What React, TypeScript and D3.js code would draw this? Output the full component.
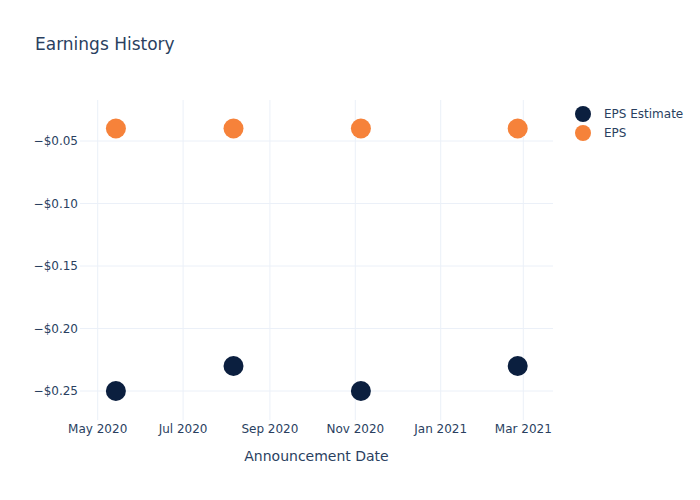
import React from "react";
import * as d3 from "d3";

const dates = ["2020-05-14", "2020-08-06", "2020-11-05", "2021-02-25"];
const epsEstimate = [-0.25, -0.23, -0.25, -0.23];
const eps = [-0.04, -0.04, -0.04, -0.04];
const yTicks = [-0.25, -0.2, -0.15, -0.1, -0.05];
const xTicks = ["2020-05-01", "2020-07-01", "2020-09-01", "2020-11-01", "2021-01-01", "2021-03-01"];
const seriesNames = ["EPS Estimate", "EPS"];
const colors = ["#0b1f3f", "#f6823a"];

const W = 700, H = 500;
const L = 80, R = 553, T = 100, B = 420;
const parse = d3.utcParse("%Y-%m-%d");

export default function App() {
  const x = d3.scaleUtc()
    .domain([parse("2020-05-01")!, parse("2021-03-01")!])
    .range([97.7, 523.3]);
  const y = d3.scaleLinear().domain([-0.2732, -0.0172]).range([B, T]);
  const fmt = (v: number) => "\u2212$" + Math.abs(v).toFixed(2);
  const xfmt = d3.utcFormat("%b %Y");
  const font = "'DejaVu Sans', Verdana, sans-serif";
  const textColor = "#2a3f5f";
  const grid = "#ebf0f8";
  const series = [epsEstimate, eps];
  return (
    <svg width={W} height={H} style={{ display: "block", position: "absolute", left: 0, top: 0 }} fontFamily={font}>
      <rect width={W} height={H} fill="#fff" />
      {xTicks.map((t) => (
        <line key={t} x1={x(parse(t)!)} x2={x(parse(t)!)} y1={T} y2={B} stroke={grid} strokeWidth={1} />
      ))}
      {yTicks.map((t) => (
        <line key={t} x1={L} x2={R} y1={y(t)} y2={y(t)} stroke={grid} strokeWidth={1} />
      ))}
      {yTicks.map((t) => (
        <text key={t} x={L - 2} y={y(t)} dy="0.35em" textAnchor="end" fontSize={12} fill={textColor}>{fmt(t)}</text>
      ))}
      {xTicks.map((t) => (
        <text key={t} x={x(parse(t)!)} y={433} textAnchor="middle" fontSize={12} fill={textColor}>{xfmt(parse(t)!)}</text>
      ))}
      <text x={(L + R) / 2} y={461} textAnchor="middle" fontSize={14} fill={textColor}>Announcement Date</text>
      <text x={35} y={50} fontSize={17} fill={textColor}>Earnings History</text>
      {series.map((s, si) =>
        s.map((v, i) => (
          <circle key={si + "-" + i} cx={x(parse(dates[i])!)} cy={y(v)} r={10} fill={colors[si]} />
        ))
      )}
      {seriesNames.map((n, i) => (
        <g key={n} transform={`translate(583,${114 + i * 19})`}>
          <circle r={8} fill={colors[i]} />
          <text x={21} dy="0.35em" fontSize={12} fill={textColor}>{n}</text>
        </g>
      ))}
    </svg>
  );
}
